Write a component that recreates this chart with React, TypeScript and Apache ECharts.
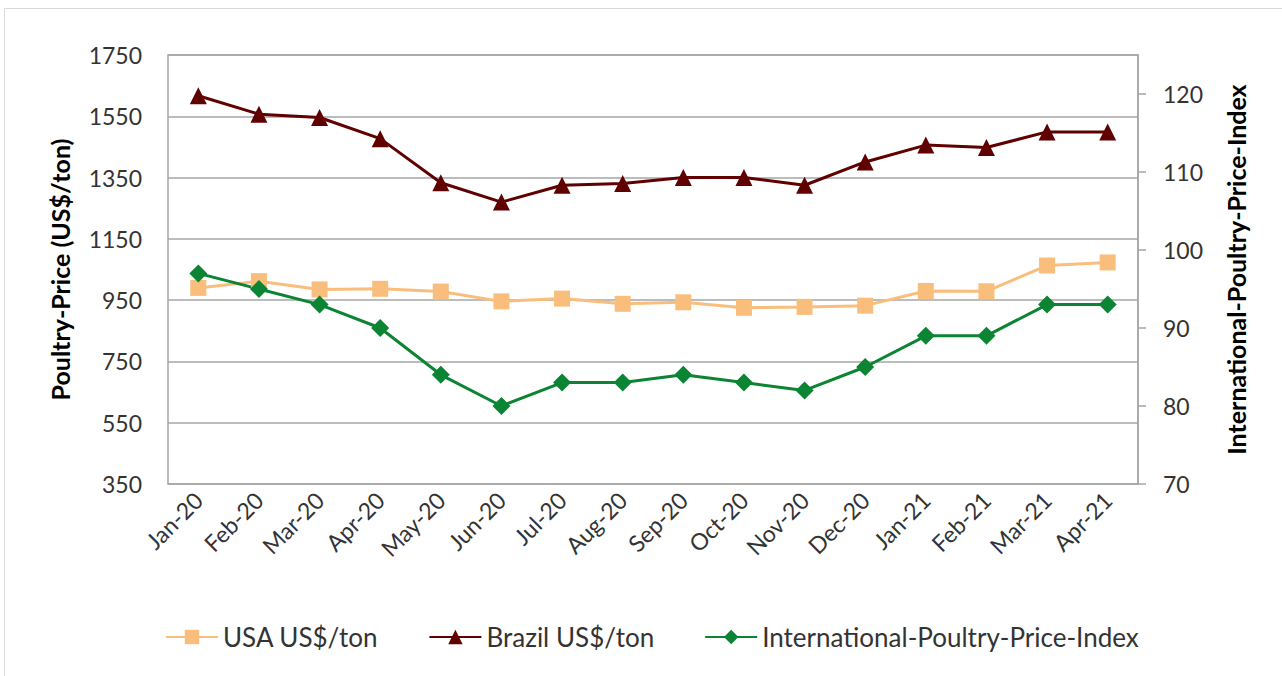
import React, { useEffect, useRef } from "react";
import * as echarts from "echarts";

const categories = ["Jan-20", "Feb-20", "Mar-20", "Apr-20", "May-20", "Jun-20", "Jul-20", "Aug-20", "Sep-20", "Oct-20", "Nov-20", "Dec-20", "Jan-21", "Feb-21", "Mar-21", "Apr-21"];
const usaValues = [990, 1012, 985, 987, 978, 946, 955, 938, 943, 925, 928, 932, 980, 979, 1063, 1073];
const brazilValues = [1617, 1557, 1546, 1477, 1333, 1270, 1325, 1331, 1350, 1350, 1325, 1401, 1456, 1448, 1499, 1499];
const indexValues = [97, 95, 93, 90, 84, 80, 83, 83, 84, 83, 82, 85, 89, 89, 93, 93];
const leftTicks = [350, 550, 750, 950, 1150, 1350, 1550, 1750];
const rightTicks = [70, 80, 90, 100, 110, 120];

const FONT = "Lato";

export default function App() {
  const ref = useRef<HTMLDivElement>(null);
  useEffect(() => {
    if (!ref.current) return;
    const chart = echarts.init(ref.current, null, { renderer: "svg" });
    chart.setOption({
      animation: false,
      backgroundColor: "#ffffff",
      textStyle: { fontFamily: FONT },
      graphic: [
        { type: "line", shape: { x1: 4.5, y1: 8.5, x2: 1282, y2: 8.5 }, style: { stroke: "#d9d9d9", lineWidth: 1 } },
        { type: "line", shape: { x1: 4.5, y1: 8.5, x2: 4.5, y2: 676 }, style: { stroke: "#d9d9d9", lineWidth: 1 } },
      ],
      grid: {
        left: 168,
        right: 144,
        top: 55,
        bottom: 192,
        show: true,
        borderColor: "#a6a6a6",
        borderWidth: 1.5,
      },
      legend: {
        left: 160,
        top: 619,
        itemWidth: 52,
        itemHeight: 18,
        itemGap: 50,
        textStyle: { fontFamily: FONT, fontSize: 26, color: "#333333" },
        data: ["USA US$/ton", "Brazil US$/ton", "International-Poultry-Price-Index"],
      },
      xAxis: {
        type: "category",
        data: categories,
        boundaryGap: true,
        axisLine: { show: false },
        axisTick: { show: false },
        axisLabel: { rotate: 45, fontFamily: FONT, fontSize: 23, color: "#333333", margin: 12, interval: 0 },
      },
      yAxis: [
        {
          type: "value",
          min: 350,
          max: 1750,
          interval: 200,
          position: "left",
          name: "Poultry-Price (US$/ton)",
          nameLocation: "middle",
          nameGap: 96,
          nameRotate: 90,
          nameTextStyle: { fontFamily: FONT, fontSize: 25, fontWeight: "bold", color: "#000000" },
          axisLine: { show: false },
          axisTick: { show: false },
          splitLine: { show: true, lineStyle: { color: "#a6a6a6", width: 1.5 } },
          axisLabel: {
            fontFamily: FONT,
            fontSize: 23,
            color: "#333333",
            margin: 26,
            customValues: leftTicks,
            formatter: (v: number) => String(v),
          },
        },
        {
          type: "value",
          min: 70,
          max: 125,
          interval: 10,
          position: "right",
          name: "International-Poultry-Price-Index",
          nameLocation: "middle",
          nameGap: 85,
          nameRotate: 90,
          nameTextStyle: { fontFamily: FONT, fontSize: 25, fontWeight: "bold", color: "#000000" },
          axisLine: { show: true, lineStyle: { color: "#a6a6a6", width: 1.5 } },
          axisTick: { show: true, length: 8, lineStyle: { color: "#a6a6a6", width: 1.5 }, customValues: rightTicks },
          splitLine: { show: false },
          axisLabel: {
            fontFamily: FONT,
            fontSize: 23,
            color: "#333333",
            margin: 25,
            customValues: rightTicks,
            formatter: (v: number) => String(v),
          },
        },
      ],
      series: [
        {
          name: "USA US$/ton",
          type: "line",
          yAxisIndex: 0,
          data: usaValues,
          symbol: "rect",
          symbolSize: 16,
          lineStyle: { color: "#F9BE7C", width: 3 },
          itemStyle: { color: "#F9BE7C" },
        },
        {
          name: "Brazil US$/ton",
          type: "line",
          yAxisIndex: 0,
          data: brazilValues,
          symbol: "triangle",
          symbolSize: 17,
          lineStyle: { color: "#600000", width: 3 },
          itemStyle: { color: "#600000" },
        },
        {
          name: "International-Poultry-Price-Index",
          type: "line",
          yAxisIndex: 1,
          data: indexValues,
          symbol: "diamond",
          symbolSize: 18,
          lineStyle: { color: "#0B8433", width: 3 },
          itemStyle: { color: "#0B8433" },
        },
      ],
    });
    return () => chart.dispose();
  }, []);
  return <div ref={ref} style={{ position: "fixed", left: 0, top: 0, width: 1282, height: 676 }} />;
}
